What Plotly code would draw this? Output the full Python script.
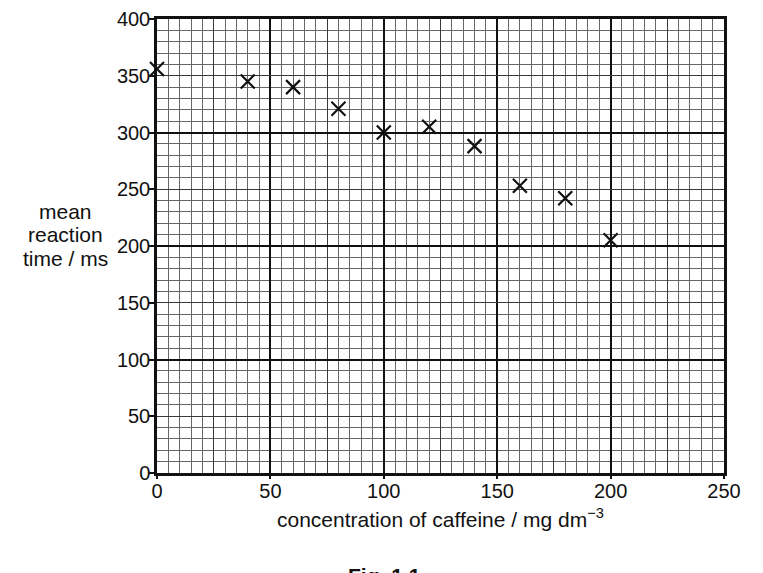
import plotly.graph_objects as go
import numpy as np

# Data
caffeine = [0, 40, 60, 80, 100, 120, 140, 160, 180, 200]
reaction_time = [356, 345, 340, 321, 300, 305, 288, 253, 242, 205]

x_ticks = [0, 50, 100, 150, 200, 250]
y_ticks = [0, 50, 100, 150, 200, 250, 300, 350, 400]

FONT = "Liberation Sans, Arial, Helvetica, sans-serif"
FS = 21
TFS = 20

fig = go.Figure()
fig.add_trace(go.Scatter(
    x=caffeine, y=reaction_time, mode="markers",
    marker=dict(symbol="x-thin", size=14, color="black",
                line=dict(width=2.2, color="#111")),
    showlegend=False, hoverinfo="skip", cliponaxis=False))
# empty trace for the overlay grid axes
fig.add_trace(go.Scatter(x=[None], y=[None], xaxis="x2", yaxis="y2",
                         showlegend=False, hoverinfo="skip"))

fig.update_layout(
    width=755, height=565,
    margin=dict(l=149, r=39, t=11, b=100, autoexpand=False),
    paper_bgcolor="white", plot_bgcolor="white",
    font=dict(family=FONT, size=FS, color="#111"),
    xaxis=dict(
        range=[0, 250], tickvals=x_ticks, ticks="outside", ticklen=3,
        tickwidth=1.5, tickcolor="#111", automargin=False,
        ticklabelstandoff=-5, ticklabeloverflow="allow",
        showline=True, linewidth=2.5, linecolor="#111", mirror=True,
        showgrid=True, gridcolor="#111", gridwidth=1.5, zeroline=False,
        minor=dict(dtick=5, showgrid=True, gridcolor="#666", gridwidth=0.8, ticks=""),
        tickfont=dict(size=TFS), fixedrange=True,
    ),
    yaxis=dict(
        range=[0, 400], tickvals=y_ticks, ticks="outside", ticklen=5,
        tickwidth=1.5, tickcolor="#111", automargin=False,
        ticklabelstandoff=-5, ticklabeloverflow="allow",
        showline=True, linewidth=2.5, linecolor="#111", mirror=True,
        showgrid=True, gridcolor="#3a3a3a", gridwidth=1.2, zeroline=False,
        minor=dict(dtick=10, showgrid=True, gridcolor="#666", gridwidth=0.8, ticks=""),
        tickfont=dict(size=TFS), fixedrange=True,
    ),
    xaxis2=dict(
        overlaying="x", range=[0, 250], tickvals=list(np.arange(25, 250, 50)),
        showticklabels=False, ticks="", showline=False, zeroline=False,
        automargin=False,
        showgrid=True, gridcolor="#3a3a3a", gridwidth=1.2, fixedrange=True,
    ),
    yaxis2=dict(
        overlaying="y", range=[0, 400], tickvals=list(np.arange(0, 401, 100)),
        showticklabels=False, ticks="", showline=False, zeroline=False,
        automargin=False,
        showgrid=True, gridcolor="#111", gridwidth=1.5, fixedrange=True,
    ),
    annotations=[
        dict(text="mean", xref="paper", yref="paper",
             x=-0.162, y=0.577, xanchor="center", yanchor="middle",
             showarrow=False, font=dict(size=FS)),
        dict(text="reaction", xref="paper", yref="paper",
             x=-0.162, y=0.525, xanchor="center", yanchor="middle",
             showarrow=False, font=dict(size=FS)),
        dict(text="time / ms", xref="paper", yref="paper",
             x=-0.162, y=0.472, xanchor="center", yanchor="middle",
             showarrow=False, font=dict(size=FS)),
        dict(text="concentration of caffeine / mg dm<sup>−3</sup>",
             xref="paper", yref="paper", x=0.5, y=-0.099,
             xanchor="center", yanchor="middle", showarrow=False,
             font=dict(size=FS)),
        dict(text="<b>Fig. 1.1</b>", xref="paper", yref="paper",
             x=0.402, y=-0.196, xanchor="center", yanchor="top",
             showarrow=False, font=dict(size=FS)),
    ],
)

fig.write_html("out.html")
